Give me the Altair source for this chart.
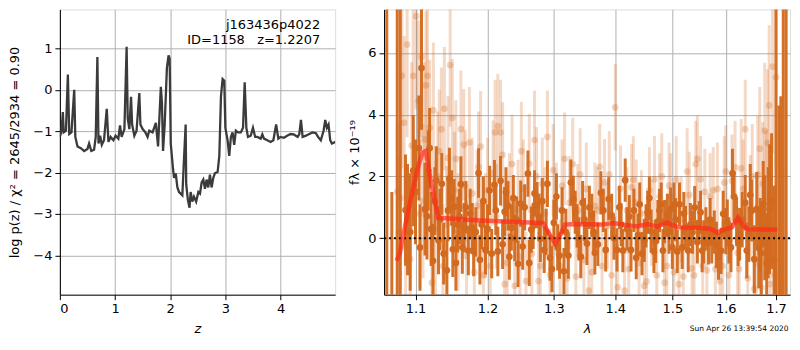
import altair as alt
import pandas as pd

# ---------------- left panel: log p(z) ----------------
z_vals = [0.00, 0.03, 0.054, 0.07, 0.11, 0.145, 0.17, 0.21, 0.26, 0.28, 0.32, 0.38, 0.44, 0.50, 0.53,
          0.57, 0.62, 0.65, 0.68, 0.70, 0.73, 0.76, 0.80, 0.85, 0.88, 0.92, 0.97, 1.01, 1.06, 1.09,
          1.12, 1.17, 1.21, 1.23, 1.26, 1.29, 1.31, 1.35, 1.39, 1.44, 1.46, 1.50, 1.55, 1.59, 1.62,
          1.68, 1.74, 1.78, 1.83, 1.85, 1.87, 1.90, 1.94, 1.97, 1.99, 2.01, 2.05, 2.07, 2.10, 2.13,
          2.16, 2.19, 2.22, 2.25, 2.28, 2.29, 2.32, 2.35, 2.37, 2.40, 2.43, 2.47, 2.51, 2.54, 2.57,
          2.60, 2.63, 2.66, 2.69, 2.72, 2.75, 2.78, 2.81, 2.86, 2.89, 2.92, 2.95, 2.98, 3.00, 3.04,
          3.07, 3.10, 3.13, 3.16, 3.19, 3.23, 3.28, 3.32, 3.35, 3.38, 3.41, 3.46, 3.50, 3.54, 3.58,
          3.64, 3.67, 3.70, 3.76, 3.82, 3.87, 3.92, 3.96, 4.00, 4.06, 4.12, 4.18, 4.24, 4.31, 4.34,
          4.37, 4.40, 4.46, 4.52, 4.58, 4.64, 4.68, 4.73, 4.78, 4.81, 4.84, 4.87, 4.90, 4.93, 5.00]
logp_vals = [-1.14, -0.99, -0.54, -1.03, -0.99, 0.37, -1.07, -1.03, 0.00, -1.14, -1.37, -1.41, -1.48, -1.43, -1.30,
             -1.48, -1.45, -1.14, 0.79, -1.30, -1.11, -1.33, -1.22, -0.46, -1.26, -1.14, -1.22, -1.11, -1.18, -0.86,
             -1.14, -0.95, 1.04, -0.69, -0.95, -0.17, -0.84, -1.11, -0.99, -0.08, -0.84, -0.95, -1.03, -1.14, -0.99,
             -1.03, -0.80, -1.37, 0.07, -0.31, -1.48, -0.84, 0.52, 0.83, 0.75, -1.30, -1.90, -2.13, -2.02, -2.36,
             -2.47, -2.51, -2.55, -1.67, -0.84, -2.28, -2.66, -2.85, -2.47, -2.70, -2.58, -2.70, -2.47, -2.51, -2.24,
             -2.17, -2.39, -2.17, -2.36, -2.05, -2.36, -2.13, -2.02, -1.98, -1.60, -0.16, 0.26, 0.22, -0.92, -1.22,
             -1.60, -1.14, -1.03, -1.33, -0.99, -1.03, -1.03, -0.92, 0.18, -0.92, -1.14, -1.11, -0.92, -1.14, -1.14,
             -1.18, -1.08, -1.18, -1.22, -1.26, -1.22, -0.84, -1.18, -1.14, -1.16, -1.11, -1.07, -1.08, -1.14, -1.07,
             -0.73, -1.14, -1.11, -1.07, -1.03, -1.05, -1.14, -1.22, -0.99, -0.73, -0.92, -0.84, -1.22, -1.30, -1.26]

# ---------------- right panel: spectrum ----------------
model_lam = [1.0753, 1.0794, 1.0858, 1.0944, 1.1029, 1.1094, 1.1138, 1.1205, 1.1306, 1.1771, 1.2241,
             1.2829, 1.2931, 1.3023, 1.3084, 1.3177, 1.3343, 1.3770, 1.3960, 1.4156, 1.4380, 1.4551,
             1.4724, 1.4900, 1.5105, 1.5501, 1.5715, 1.5839, 1.5965, 1.6122, 1.6237, 1.6347, 1.6444, 1.7026]
model_flux = [-0.73, -0.48, 0.34, 1.35, 2.27, 2.77, 2.82, 1.86, 0.66, 0.59, 0.54,
              0.49, 0.13, -0.17, 0.03, 0.44, 0.46, 0.44, 0.49, 0.44, 0.38, 0.46,
              0.37, 0.50, 0.35, 0.34, 0.30, 0.18, 0.28, 0.35, 0.66, 0.38, 0.29, 0.28]

dark_lam = [1.0868, 1.093, 1.097, 1.1045, 1.108, 1.1127, 1.1154, 1.119, 1.1235, 1.128, 1.131, 1.1355,
            1.1425, 1.146, 1.1507, 1.1525, 1.1575, 1.162, 1.1665, 1.1725, 1.178, 1.180, 1.187, 1.1915,
            1.197, 1.203, 1.210, 1.215, 1.219, 1.225, 1.230, 1.235, 1.240, 1.245, 1.249, 1.252, 1.260,
            1.265, 1.270, 1.274, 1.279, 1.285, 1.290, 1.294, 1.304, 1.309, 1.316, 1.323, 1.331, 1.334,
            1.340, 1.346, 1.353, 1.361, 1.366, 1.376, 1.384, 1.389, 1.394, 1.403, 1.410, 1.417, 1.424,
            1.427, 1.436, 1.442, 1.450, 1.456, 1.462, 1.467, 1.474, 1.480, 1.486, 1.491, 1.497, 1.503,
            1.509, 1.518, 1.524, 1.533, 1.541, 1.546, 1.552, 1.558, 1.567, 1.573, 1.582, 1.591, 1.595,
            1.600, 1.606, 1.616, 1.621, 1.627, 1.638, 1.645, 1.651, 1.656, 1.661, 1.665, 1.670, 1.677, 1.687,
            1.0895, 1.100, 1.106, 1.117, 1.121, 1.126, 1.133, 1.138, 1.144, 1.149, 1.155, 1.160, 1.164,
            1.169, 1.175, 1.183, 1.189, 1.194, 1.200, 1.206, 1.212, 1.222, 1.227, 1.232, 1.238, 1.243,
            1.255, 1.262, 1.268, 1.277, 1.282, 1.288, 1.297, 1.300, 1.306, 1.313, 1.319, 1.327, 1.337,
            1.343, 1.349, 1.357, 1.364, 1.371, 1.380, 1.398, 1.407, 1.413, 1.420, 1.432, 1.439, 1.446,
            1.453, 1.459, 1.470, 1.477, 1.483, 1.494, 1.500, 1.506, 1.513, 1.521, 1.529, 1.537, 1.549,
            1.555, 1.562, 1.570, 1.578, 1.586, 1.603, 1.610, 1.613, 1.624, 1.632, 1.641, 1.648, 1.668,
            1.674, 1.681, 1.684, 1.691, 1.696]
dark_flux = [0.91, 0.20, 2.19, 2.92, 5.51, 0.94, 0.71, 2.92, -0.73, 1.88, -0.07, 1.76,
             -1.04, 1.93, -0.36, 1.02, 0.44, 1.75, 0.34, -0.40, 0.34, -0.43, 2.11, 0.44,
             -0.38, 1.55, 1.73, -0.43, 1.86, 0.86, 1.05, 0.34, 0.00, -0.83, 1.12, -0.27, 2.09,
             0.28, 1.45, 1.07, -0.02, -0.38, 1.76, -0.63, 1.35, -0.56, -1.07, -0.56, 1.27, 0.84,
             -0.02, 1.15, -0.17, 0.74, -0.48, 1.47, -0.38, 1.27, 0.74, -0.38, 0.44, 1.88, 0.70,
             -0.38, -0.63, 1.10, -0.07, 0.84, 0.23, -0.43, 0.54, 1.10, 0.54, 0.74, 0.94, 1.10,
             -0.43, -0.30, 0.34, 0.44, 0.99, -0.12, 0.84, -0.12, -0.15, -0.12, -0.22, -0.41, 0.79,
             0.23, -0.07, 1.35, 0.54, 0.13, 1.15, 0.13, 0.89, -0.68, 0.94, -0.32, -0.48, 0.34, 0.94,
             0.6, 1.5, -0.3, 2.2, 0.3, 1.2, 0.6, -0.5, 0.9, 1.3, -0.8, 0.7, -0.3,
             1.0, 0.8, 0.2, -0.7, 1.2, 0.3, -0.5, 0.9, -0.2, 1.5, -0.6, 1.3, 0.6,
             1.0, -0.8, 0.4, 0.7, 1.2, 0.2, -1.0, 0.5, -0.3, 0.9, 0.2, 1.8, 0.4,
             -0.6, 0.6, 1.0, 0.2, -0.2, 0.9, 0.0, 1.0, -0.4, 0.3, 0.9, 0.1, -0.5,
             0.4, 1.3, -0.1, 0.9, -0.4, 0.2, -0.3, 0.6, 1.1, 0.8, -0.4, 0.2, 0.5,
             -0.4, 0.3, 0.6, 0.2, -0.6, 0.5, -0.3, 2.1, -0.1, 0.6, -0.4, 1.4, 0.1,
             1.1, -0.8, 0.5, 1.2, -0.7]
dark_err = [1.8, 1.9, 1.8, 1.7, 2.0, 1.5, 1.4, 1.3, 1.2, 1.1, 1.1, 1.0,
            1.0, 1.0, 0.9, 0.9, 0.9, 0.9, 0.8, 0.8, 0.8, 0.8, 0.8, 0.8,
            0.8, 0.8, 0.8, 0.8, 0.8, 0.8, 0.8, 0.75, 0.75, 0.75, 0.75, 0.75, 0.75,
            0.75, 0.75, 0.75, 0.75, 0.75, 0.75, 0.75, 0.75, 0.75, 0.75, 0.75, 0.75, 0.7,
            0.7, 0.7, 0.7, 0.7, 0.7, 0.7, 0.7, 0.7, 0.7, 0.7, 0.7, 0.7, 0.7,
            0.7, 0.7, 0.7, 0.7, 0.7, 0.7, 0.7, 0.7, 0.7, 0.7, 0.7, 0.7, 0.7,
            0.7, 0.7, 0.7, 0.7, 0.7, 0.7, 0.7, 0.7, 0.7, 0.7, 0.75, 0.75, 0.75,
            0.75, 0.75, 0.8, 0.8, 0.85, 0.9, 0.9, 1.0, 1.1, 1.2, 1.3, 1.5, 1.7, 2.1,
            1.8, 1.7, 1.4, 1.3, 1.2, 1.1, 1.0, 1.0, 1.0, 0.9, 0.9, 0.9, 0.85,
            0.85, 0.8, 0.8, 0.8, 0.8, 0.8, 0.8, 0.8, 0.8, 0.8, 0.75, 0.75, 0.75,
            0.75, 0.75, 0.75, 0.75, 0.75, 0.75, 0.75, 0.75, 0.75, 0.75, 0.75, 0.75, 0.7,
            0.7, 0.7, 0.7, 0.7, 0.7, 0.7, 0.7, 0.7, 0.7, 0.7, 0.7, 0.7, 0.7,
            0.7, 0.7, 0.7, 0.7, 0.7, 0.7, 0.7, 0.7, 0.7, 0.7, 0.7, 0.7, 0.7,
            0.7, 0.7, 0.7, 0.7, 0.75, 0.75, 0.8, 0.8, 0.8, 0.9, 0.9, 1.0, 1.2,
            1.4, 1.6, 1.8, 2.2, 2.4]

# pixels whose errors fill the whole panel at both ends of the grism range
edge_lam = [1.0625, 1.069, 1.076, 1.080, 1.700, 1.706, 1.710, 1.715, 1.721]
edge_flux = [0.5, -2.5, 0.8, 0.2, 0.6, -2.0, -2.2, 0.9, 0.8]
edge_err = [9.0, 4.0, 9.0, 8.0, 9.0, 6.3, 6.8, 9.0, 9.0]

light_lam = [1.076, 1.080, 1.082, 1.085, 1.089, 1.093, 1.097, 1.101, 1.104, 1.106, 1.108, 1.114,
             1.116, 1.119, 1.122, 1.124, 1.132, 1.135, 1.139, 1.142, 1.147, 1.153, 1.155, 1.162,
             1.166, 1.170, 1.178, 1.185, 1.190, 1.194, 1.200, 1.208, 1.211, 1.215, 1.219, 1.225,
             1.232, 1.240, 1.245, 1.250, 1.257, 1.262, 1.270, 1.276, 1.282, 1.290, 1.294, 1.304,
             1.317, 1.325, 1.335, 1.342, 1.356, 1.366, 1.374, 1.382, 1.390, 1.400, 1.404, 1.416,
             1.428, 1.436, 1.450, 1.459, 1.468, 1.477, 1.486, 1.497, 1.512, 1.520, 1.527, 1.536,
             1.546, 1.552, 1.564, 1.570, 1.576, 1.589, 1.600, 1.612, 1.623, 1.630, 1.638, 1.648,
             1.656, 1.663, 1.673, 1.677, 1.683, 1.688, 1.693, 1.700,
             1.078, 1.087, 1.095, 1.110, 1.112, 1.127, 1.130, 1.137, 1.144, 1.150, 1.158, 1.168,
             1.174, 1.181, 1.187, 1.197, 1.204, 1.213, 1.222, 1.229, 1.236, 1.248, 1.253, 1.266,
             1.273, 1.279, 1.286, 1.299, 1.310, 1.313, 1.321, 1.330, 1.338, 1.348, 1.352, 1.361,
             1.370, 1.378, 1.387, 1.394, 1.409, 1.420, 1.423, 1.431, 1.441, 1.445, 1.454, 1.463,
             1.472, 1.481, 1.490, 1.494, 1.503, 1.507, 1.516, 1.531, 1.540, 1.543, 1.556, 1.560,
             1.580, 1.584, 1.594, 1.597, 1.606, 1.618, 1.626, 1.634, 1.643, 1.652, 1.660, 1.667,
             1.670, 1.680, 1.686, 1.697]
light_flux = [1.50, 1.30, 5.26, 3.74, 6.27, -0.68, 5.26, 7.19, 4.45, 0.79, 5.87, 4.95,
              5.26, 3.58, -1.44, 4.14, 2.82, 3.53, 4.19, 0.44, 5.61, 1.55, 2.57, 3.53,
              3.03, -0.58, 1.45, 1.05, 2.97, -1.19, 1.55, 2.11, 3.43, 3.63, 3.43, -1.49,
              1.15, -1.54, 0.94, 2.82, -1.39, 2.42, 3.18, -1.39, 1.76, 3.28, -1.19, 0.94,
              2.57, 1.15, -1.24, 2.06, -1.70, 1.05, 2.31, 1.81, 2.06, 4.24, -1.59, -1.70,
              1.65, 1.15, -1.54, 1.55, 1.91, 1.35, -1.44, 1.35, -1.49, -1.24, 2.16, -0.98,
              2.57, 1.91, -1.04, 1.35, 1.55, -1.39, 2.16, 1.86, -0.48, 2.26, 3.53, 0.99,
              -1.64, 2.06, 1.76, 3.48, 3.08, -1.49, 5.56, 5.21,
              0.2, -0.3, 3.0, 1.2, 3.2, 0.3, 2.0, -0.9, 2.6, 3.9, 0.2, 1.7,
              3.1, -1.1, 2.3, 0.4, -0.9, 0.7, 2.7, -0.8, 2.4, -0.6, 1.6, -0.5,
              2.0, -0.9, 0.8, 2.2, -0.9, 1.7, -1.3, 2.4, 0.9, -0.7, 1.6, -1.1,
              0.9, -0.9, 0.4, -1.2, 1.6, 0.9, -1.0, 1.9, -0.8, 0.8, -1.4, 0.5,
              -1.2, 2.0, -0.9, 1.7, -1.1, 1.9, 0.6, 1.4, -1.2, 2.4, -0.9, 1.5,
              -1.0, 1.6, -0.9, 1.8, -1.2, 2.3, -1.0, 1.6, -1.3, 2.0, -0.8, 2.9,
              -1.6, 1.2, 4.3, -1.2]
light_err = [2.2, 2.5, 3.0, 2.8, 3.0, 2.6, 2.8, 3.0, 2.6, 2.4, 2.6, 2.4,
             2.4, 2.2, 2.2, 2.2, 2.0, 2.0, 2.0, 1.9, 2.0, 1.9, 1.9, 1.9,
             1.8, 1.8, 1.8, 1.8, 1.8, 1.7, 1.7, 1.7, 1.7, 1.7, 1.7, 1.7,
             1.6, 1.6, 1.6, 1.6, 1.6, 1.6, 1.6, 1.6, 1.5, 1.5, 1.5, 1.5,
             1.5, 1.5, 1.5, 1.5, 1.5, 1.4, 1.4, 1.4, 1.4, 1.4, 1.4, 1.4,
             1.4, 1.4, 1.4, 1.4, 1.4, 1.4, 1.4, 1.4, 1.4, 1.4, 1.4, 1.4,
             1.4, 1.4, 1.4, 1.4, 1.4, 1.5, 1.5, 1.5, 1.5, 1.6, 1.6, 1.7,
             1.8, 1.9, 2.0, 2.2, 2.4, 2.6, 2.8, 3.0,
             2.5, 2.7, 2.7, 2.5, 2.5, 2.2, 2.1, 2.0, 2.0, 1.9, 1.9, 1.8,
             1.8, 1.8, 1.8, 1.7, 1.7, 1.7, 1.7, 1.6, 1.6, 1.6, 1.6, 1.6,
             1.6, 1.6, 1.5, 1.5, 1.5, 1.5, 1.5, 1.5, 1.5, 1.5, 1.5, 1.5,
             1.4, 1.4, 1.4, 1.4, 1.4, 1.4, 1.4, 1.4, 1.4, 1.4, 1.4, 1.4,
             1.4, 1.4, 1.4, 1.4, 1.4, 1.4, 1.4, 1.4, 1.4, 1.4, 1.4, 1.4,
             1.5, 1.5, 1.5, 1.5, 1.5, 1.5, 1.6, 1.6, 1.7, 1.7, 1.9, 2.0,
             2.1, 2.3, 2.6, 2.9]

ORANGE = "#d2691e"
GRID = "#b0b0b0"
FONT = "DejaVu Sans"
PLOT_H = 286

pz = pd.DataFrame({"z": z_vals, "logp": logp_vals})
model = pd.DataFrame({"lam": model_lam, "flux": model_flux})
dark = pd.DataFrame({"lam": dark_lam, "flux": dark_flux, "err": dark_err})
edge = pd.DataFrame({"lam": edge_lam, "flux": edge_flux, "err": edge_err})
light = pd.DataFrame({"lam": light_lam, "flux": light_flux, "err": light_err})

axis_common = dict(grid=True, gridColor=GRID, gridWidth=1, domainColor="black", tickColor="black",
                   tickSize=5, labelFont=FONT, labelFontSize=13, labelColor="black",
                   titleFont=FONT, titleFontSize=13, titleColor="black", titleFontWeight="normal",
                   labelPadding=3)

# ----- left chart -----
zx = alt.X("z:Q", scale=alt.Scale(domain=[0, 4.99], nice=False),
           axis=alt.Axis(values=[0, 1, 2, 3, 4], title="z", titleFontStyle="italic", titlePadding=7, **axis_common))
zy = alt.Y("logp:Q", scale=alt.Scale(domain=[-4.95, 1.94], nice=False),
           axis=alt.Axis(values=[-4, -3, -2, -1, 0, 1], title="log p(z) / χ² = 2645/2934 = 0.90",
                         titlePadding=11, **axis_common))
pz_line = alt.Chart(pz).mark_line(color="#3b3b3b", strokeWidth=2.3, clip=True).encode(x=zx, y=zy)

def note(txt, ypix):
    return alt.Chart(pd.DataFrame({"t": [txt]})).mark_text(
        align="right", baseline="alphabetic", font=FONT, fontSize=13, color="black").encode(
        text="t:N", x=alt.value(261), y=alt.value(ypix))

left = alt.layer(pz_line, note("j163436p4022", 20),
                 note("ID=1158\u00a0\u00a0\u00a0z=1.2207", 35)).properties(width=276, height=PLOT_H)

# ----- right chart -----
lx = alt.X("lam:Q", scale=alt.Scale(type="log", domain=[1.059, 1.729], nice=False),
           axis=alt.Axis(values=[1.1, 1.2, 1.3, 1.4, 1.5, 1.6, 1.7], format=".1f", title="λ",
                         titleFontStyle="italic", titlePadding=7, **axis_common))
ly = alt.Y("lo:Q", scale=alt.Scale(domain=[-1.83, 7.41], nice=False),
           axis=alt.Axis(values=[0, 2, 4, 6], title="fλ × 10⁻¹⁹", titlePadding=6, **axis_common))
ly_plain = alt.Y("flux:Q", scale=alt.Scale(domain=[-1.83, 7.41], nice=False))

def bars(df, color, opacity, width):
    return alt.Chart(df).transform_calculate(lo="datum.flux - datum.err", hi="datum.flux + datum.err").mark_rule(
        color=color, opacity=opacity, strokeWidth=width, clip=True).encode(x=lx, y=ly, y2="hi:Q")

light_bars = bars(light, ORANGE, 0.25, 3)
light_pts = alt.Chart(light).mark_circle(color=ORANGE, opacity=0.28, size=45, clip=True).encode(x=lx, y=ly_plain)
edge_bars = bars(edge, ORANGE, 0.95, 3)
dark_bars = bars(dark, ORANGE, 0.95, 3)
dark_pts = alt.Chart(dark).mark_circle(color=ORANGE, opacity=1, size=45, clip=True).encode(x=lx, y=ly_plain)
zero = alt.Chart(pd.DataFrame({"flux": [0]})).mark_rule(color="black", strokeDash=[2, 3], strokeWidth=2).encode(
    y=ly_plain)
model_line = alt.Chart(model).mark_line(color="#ff2a1a", opacity=0.7, strokeWidth=4.5, clip=True).encode(
    x=lx, y=ly_plain)
stamp = alt.Chart(pd.DataFrame({"t": ["Sun Apr 26 13:39:54 2020"]})).mark_text(
    font=FONT, fontSize=7.5, color="black", align="center", baseline="middle").encode(
    text="t:N", x=alt.value(356), y=alt.value(PLOT_H + 34))

right = alt.layer(light_bars, light_pts, edge_bars, dark_bars, dark_pts, zero, model_line, stamp).properties(
    width=407, height=PLOT_H)

chart = alt.hconcat(left, right, spacing=12).properties(
    padding={"left": 0, "top": 0, "right": 0, "bottom": 0}
).configure_view(stroke="black", strokeWidth=1).configure(background="white")

chart.save("out.html", embed_options={"renderer": "svg", "actions": False})
